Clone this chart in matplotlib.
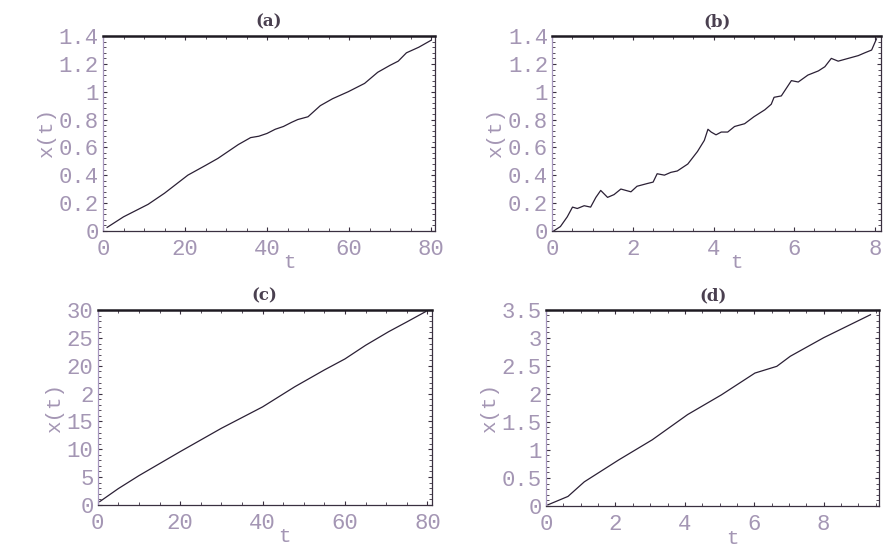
import numpy as np
import matplotlib
matplotlib.use("Agg")
import matplotlib.pyplot as plt
from matplotlib.ticker import AutoMinorLocator

# Panel (a): slow drift, t in 0..80
a_t = [1.0, 5, 11, 15, 20.7, 25, 28, 30.5, 33, 36, 38, 40, 42, 44, 46, 47.5,
       50, 53, 56, 59.8, 63.8, 67, 70, 72, 74, 77, 80]
a_x = [0.024, 0.10, 0.19, 0.27, 0.40, 0.47, 0.52, 0.57, 0.62, 0.67, 0.68, 0.70,
       0.73, 0.75, 0.78, 0.80, 0.82, 0.90, 0.95, 1.00, 1.06, 1.14, 1.19, 1.22,
       1.28, 1.32, 1.37]

# Panel (b): noisy drift, t in 0..8
b_t = [0.04, 0.2, 0.37, 0.5, 0.62, 0.79, 0.95, 1.08, 1.2, 1.37, 1.53, 1.7, 1.95,
       2.1, 2.36, 2.5, 2.6, 2.78, 2.94, 3.1, 3.36, 3.6, 3.77, 3.86, 3.94, 4.06,
       4.19, 4.35, 4.52, 4.77, 5.0, 5.27, 5.43, 5.5, 5.68, 5.93, 6.1, 6.34, 6.6,
       6.76, 6.92, 7.09, 7.34, 7.59, 7.75, 7.92, 8.04]
b_x = [0.0, 0.03, 0.10, 0.17, 0.16, 0.18, 0.17, 0.24, 0.29, 0.24, 0.26, 0.30,
       0.28, 0.32, 0.34, 0.35, 0.41, 0.40, 0.42, 0.43, 0.48, 0.57, 0.65, 0.73,
       0.71, 0.69, 0.71, 0.71, 0.75, 0.77, 0.82, 0.87, 0.91, 0.96, 0.97, 1.08,
       1.07, 1.12, 1.15, 1.18, 1.24, 1.22, 1.24, 1.26, 1.28, 1.30, 1.38]

# Panel (c): t in 0..80
c_t = [0.5, 5, 10, 20, 30, 40, 47.8, 55, 60, 65, 70.6, 75, 79.6]
c_x = [0.5, 2.5, 4.5, 8.2, 11.8, 15.1, 18.2, 20.8, 22.5, 24.6, 26.7, 28.2, 29.8]
c_ytick_labels = ["0", "5", "10", "15", "2", "20", "25", "30"]

# Panel (d): t in 0..9.6
d_t = [0.05, 0.63, 1.1, 2.09, 3.06, 4.08, 5.05, 6.02, 6.65, 7.04, 8.0, 9.35]
d_x = [0.02, 0.17, 0.43, 0.82, 1.18, 1.63, 1.98, 2.37, 2.49, 2.67, 3.0, 3.41]

label_color = "#a496b4"
line_color = "#2b2035"
mono = "Liberation Mono"

fig = plt.figure(figsize=(8.88, 5.56), dpi=100)

panels = [
    ("(a)", [0.116, 0.585, 0.374, 0.350], a_t, a_x, (0, 81), (0, 1.4),
     [0, 20, 40, 60, 80], [0, 0.2, 0.4, 0.6, 0.8, 1, 1.2, 1.4],
     ["0", "0.2", "0.4", "0.6", "0.8", "1", "1.2", "1.4"]),
    ("(b)", [0.622, 0.585, 0.370, 0.350], b_t, b_x, (0, 8.15), (0, 1.4),
     [0, 2, 4, 6, 8], [0, 0.2, 0.4, 0.6, 0.8, 1, 1.2, 1.4],
     ["0", "0.2", "0.4", "0.6", "0.8", "1", "1.2", "1.4"]),
    ("(c)", [0.110, 0.092, 0.376, 0.350], c_t, c_x, (0, 81), (0, 30),
     [0, 20, 40, 60, 80], list(np.linspace(0, 30, len(c_ytick_labels))),
     c_ytick_labels),
    ("(d)", [0.615, 0.090, 0.375, 0.353], d_t, d_x, (0, 9.6), (0, 3.5),
     [0, 2, 4, 6, 8], [0, 0.5, 1, 1.5, 2, 2.5, 3, 3.5],
     ["0", "0.5", "1", "1.5", "2", "2.5", "3", "3.5"]),
]

for title, rect, t, x, xlim, ylim, xt, yt, ylabels in panels:
    ax = fig.add_axes(rect)
    ax.plot(t, x, color=line_color, lw=0.9)
    ax.set_xlim(*xlim)
    ax.set_ylim(*ylim)
    ax.set_xticks(xt)
    ax.set_xticklabels([str(v) for v in xt])
    ax.set_yticks(yt)
    ax.set_yticklabels(ylabels)
    ax.xaxis.set_minor_locator(AutoMinorLocator(4))
    ax.yaxis.set_minor_locator(AutoMinorLocator(5))
    ax.tick_params(which="both", direction="in", top=True, right=True,
                   colors="#3a3040", labelcolor=label_color, labelsize=16)
    ax.tick_params(axis="x", pad=6)
    ax.tick_params(axis="y", pad=3)
    ax.tick_params(which="major", length=3, width=0.8)
    ax.tick_params(which="minor", length=2, width=0.6)
    for lab in ax.get_xticklabels() + ax.get_yticklabels():
        lab.set_family(mono)
    for side in ["bottom", "right", "left"]:
        ax.spines[side].set_color("#3a3040")
        ax.spines[side].set_linewidth(0.9)
    ax.spines["left"].set_color("#a898c0")
    ax.spines["top"].set_linewidth(1.8)
    ax.spines["top"].set_color("#1e1a22")
    ax.set_title(title, fontsize=12, family="DejaVu Serif", fontweight="bold",
                 color="#4a4050", pad=7)
    ax.set_ylabel("x(t)", family=mono, fontsize=15, color=label_color,
                  labelpad=2)
    ax.set_xlabel("t", family=mono, fontsize=15, color=label_color)
    ax.xaxis.set_label_coords(0.56, -0.115)

fig.savefig("out.png", dpi=100)
